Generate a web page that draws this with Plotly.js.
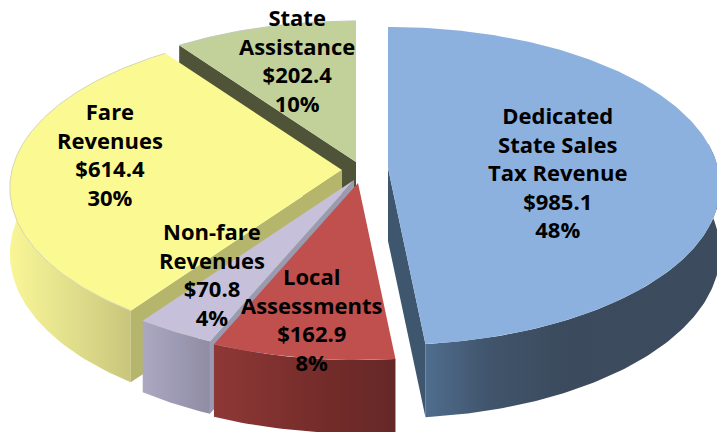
<!DOCTYPE html>
<html><head><meta charset="utf-8">
<script src="https://cdn.plot.ly/plotly-3.0.1.min.js"></script>
<style>html,body{margin:0;padding:0;background:#fff}#c{width:717px;height:432px}</style>
</head><body><div id="c"></div>
<script>
// --- data (clockwise from 12 o'clock) ---
const categories = ["Dedicated<br>State Sales<br>Tax Revenue", "Local<br>Assessments", "Non-fare<br>Revenues", "Fare<br>Revenues", "State<br>Assistance"];
const values = [985.1, 162.9, 70.8, 614.4, 202.4];
const percents = ["48%", "8%", "4%", "30%", "10%"];

// --- styling ---
const topColors = ["#8cb1de", "#c0504d", "#c6c0da", "#fbf991", "#c1d199"];
const sideStops = [
  [[0, "#4f6d8e"], [0.22, "#40546b"], [0.5, "#3b4a5c"], [1, "#3c4c5e"]],
  [[0, "#8e3836"], [0.6, "#742c2a"], [1, "#652827"]],
  [[0, "#aca8c2"], [1, "#8f8ca4"]],
  [[0, "#f8f696"], [0.5, "#e2df8c"], [1, "#c8c67c"]],
  null
];
const cutColors = ["#3f566f", null, "#9a9bb0", "#b5b56c", "#4f5338"];
const rimColors = [null, null, null, "#d6d6b4", "#c4c8b8"];
const apexX = [388, 358, 354, 342, 356];
const apexY = [168, 183, 180, 170, 162];
const labelX = [557, 312, 212, 110, 297];
const labelY = [172, 319, 274, 154, 60];
const drawOrder = [4, 0, 3, 2, 1];
const RX = 330, RY = 157, P = 0.113, SIDE = 65, APEX_DEPTH = 73;

const total = values.reduce((a, b) => a + b, 0);
const edges = [0];
values.forEach((v, i) => edges.push(edges[i] + v / total * 2 * Math.PI));

function project(i, a) {
  const u = Math.sin(a), v = -Math.cos(a), s = 1 / (1 - P * v);
  return { x: apexX[i] + RX * u * s, y: apexY[i] + RY * v * s, d: SIDE * s };
}
function arc(i, a1, a2) {
  const n = Math.max(2, Math.ceil(Math.abs(a2 - a1) * 60)), out = [];
  for (let k = 0; k <= n; k++) out.push(project(i, a1 + (a2 - a1) * k / n));
  return out;
}
function poly(xs, ys, extra) {
  return Object.assign({
    type: "scatter", mode: "lines", x: xs, y: ys, fill: "toself",
    line: { width: 0 }, hoverinfo: "skip", showlegend: false
  }, extra);
}
const traces = [];
drawOrder.forEach(i => {
  const a1 = edges[i], a2 = edges[i + 1];
  const b1 = Math.max(a1, Math.PI * 0.45), b2 = Math.min(a2, Math.PI * 1.55);
  if (sideStops[i] && b2 > b1) {
    const w = arc(i, b1, b2);
    const xs = w.map(p => p.x).concat(w.slice().reverse().map(p => p.x));
    const ys = w.map(p => p.y).concat(w.slice().reverse().map(p => p.y + p.d));
    traces.push(poly(xs, ys, {
      fillcolor: sideStops[i][sideStops[i].length - 1][1],
      fillgradient: { type: "horizontal", colorscale: sideStops[i] }
    }));
  }
  if (cutColors[i]) {
    const e = project(i, i === 0 ? a2 : a1), ax = apexX[i], ay = apexY[i];
    traces.push(poly([ax, ax, e.x, e.x, ax], [ay, ay + APEX_DEPTH, e.y + e.d, e.y, ay],
      { fillcolor: cutColors[i] }));
  }
  const t = arc(i, a1, a2);
  traces.push(poly([apexX[i]].concat(t.map(p => p.x), apexX[i]),
                   [apexY[i]].concat(t.map(p => p.y), apexY[i]),
                   { fillcolor: topColors[i] }));
  if (rimColors[i]) {
    traces.push({ type: "scatter", mode: "lines", x: t.map(p => p.x), y: t.map(p => p.y),
      line: { width: 1, color: rimColors[i] }, hoverinfo: "skip", showlegend: false });
  }
});

const annotations = categories.map((c, i) => ({
  xref: "x", yref: "y", x: labelX[i], y: labelY[i], xanchor: "center", yanchor: "middle",
  showarrow: false, align: "center",
  text: c + "<br>$" + values[i].toFixed(1) + "<br>" + percents[i],
  font: { family: "'Open Sans', 'Noto Sans', sans-serif", size: 22, color: "#000", weight: 700 }
}));

Plotly.newPlot("c", traces, {
  width: 717, height: 432, margin: { l: 0, r: 0, t: 0, b: 0 },
  paper_bgcolor: "#fff", plot_bgcolor: "#fff", showlegend: false,
  xaxis: { range: [0, 717], visible: false, fixedrange: true },
  yaxis: { range: [432, 0], visible: false, fixedrange: true },
  annotations
}, { displayModeBar: false, staticPlot: true });
</script>
</body></html>
